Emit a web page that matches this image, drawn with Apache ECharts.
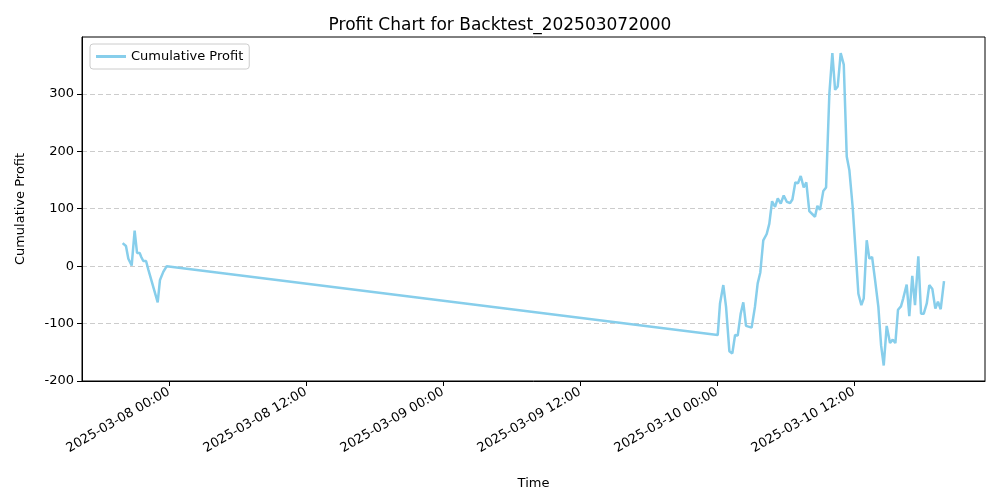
<!DOCTYPE html>
<html lang="en">
<head>
  <meta charset="UTF-8">
  <title>Profit Chart</title>
  <script src="https://cdn.jsdelivr.net/npm/echarts@6/dist/echarts.min.js"></script>
</head>
<body style="margin:0">
  <div id="main" style="width:1000px;height:500px;"></div>
  <script>
  // hours since 2025-03-08 00:00
  var hours = [-4.06, -3.77, -3.56, -3.27, -3.01, -2.80, -2.57, -2.43, -2.25, -2.01, -1.81, -0.99, -0.79, -0.50, -0.20,
    48.06, 48.26, 48.55, 48.79, 49.08, 49.34, 49.58, 49.81, 50.07, 50.30, 50.54, 51.03, 51.32, 51.56, 51.79,
    52.05, 52.35, 52.58, 52.82, 53.08, 53.32, 53.58, 53.84, 54.11, 54.40, 54.60, 54.86, 55.09, 55.33, 55.59,
    55.82, 56.08, 56.58, 56.79, 57.02, 57.31, 57.55, 57.84, 58.10, 58.34, 58.57, 58.83, 59.10, 59.36, 59.59,
    59.88, 60.17, 60.38, 60.64, 60.85, 61.11, 61.34, 61.58, 61.84, 62.13, 62.37, 62.60, 62.86, 63.15, 63.39,
    63.62, 63.85, 64.11, 64.31, 64.61, 64.84, 65.10, 65.34, 65.63, 65.87, 66.10, 66.37, 66.59, 66.86, 67.12,
    67.35, 67.59, 67.88]
  var profit = [40, 35, 13, 1, 62, 23, 23, 16, 9, 9, -6, -63, -24, -10, 0,
    -120, -65, -33, -71, -148, -152, -120, -121, -83, -63, -104, -107, -71, -30, -11,
    45, 56, 74, 113, 103, 118, 109, 123, 112, 110, 116, 146, 144, 157, 137,
    146, 96, 86, 105, 98, 131, 137, 301, 371, 307, 313, 371, 351, 191, 167,
    103, 16, -48, -68, -56, 45, 13, 16, -24, -71, -138, -173, -104, -134, -128,
    -134, -76, -70, -56, -32, -87, -17, -68, 17, -83, -83, -65, -33, -40, -74,
    -62, -75, -26]
  var tickHours = [0, 12, 24, 36, 48, 60]
  var tickLabels = ['2025-03-08 00:00', '2025-03-08 12:00', '2025-03-09 00:00', '2025-03-09 12:00', '2025-03-10 00:00', '2025-03-10 12:00']

  var font = 'DejaVu Sans'
  var myChart = echarts.init(document.getElementById('main'))
  var option = {
    animation: false,
    textStyle: { fontFamily: font },
    title: {
      text: 'Profit Chart for Backtest_202503072000',
      left: 'center', top: 12,
      textStyle: { fontFamily: font, fontSize: 17, fontWeight: 'normal', color: '#000' }
    },
    legend: {
      left: 90, top: 44,
      padding: [6, 6],
      borderColor: '#ccc', borderWidth: 1, borderRadius: 3,
      itemWidth: 30, itemHeight: 3, icon: 'rect',
      textStyle: { fontFamily: font, fontSize: 13, color: '#000' },
      data: ['Cumulative Profit']
    },
    grid: {
      left: 82, right: 15, top: 37, bottom: 119,
      show: true, borderColor: '#000', borderWidth: 1
    },
    xAxis: {
      type: 'value',
      min: -7.62, max: 71.47,
      name: 'Time', nameLocation: 'middle', nameGap: 96,
      nameTextStyle: { fontFamily: font, fontSize: 13, color: '#000' },
      axisLine: { show: true, onZero: false, lineStyle: { color: '#000' } },
      axisTick: { show: true, customValues: tickHours, lineStyle: { color: '#000' } },
      axisLabel: {
        customValues: tickHours, rotate: 30, margin: 10, color: '#000', fontSize: 13, fontFamily: font,
        formatter: function (v) { return tickLabels[tickHours.indexOf(v)] || '' }
      },
      splitLine: { show: false }
    },
    yAxis: {
      type: 'value',
      min: -200, max: 399, interval: 100,
      name: 'Cumulative Profit', nameLocation: 'middle', nameGap: 55,
      nameTextStyle: { fontFamily: font, fontSize: 13, color: '#000' },
      axisLine: { show: true, onZero: false, lineStyle: { color: '#000' } },
      axisTick: { show: true, lineStyle: { color: '#000' } },
      axisLabel: { color: '#000', fontSize: 13, fontFamily: font, showMaxLabel: false },
      splitLine: { show: true, showMinLine: false, showMaxLine: false, lineStyle: { type: [5, 3], color: '#ccc' } }
    },
    series: [{
      name: 'Cumulative Profit',
      type: 'line',
      showSymbol: false,
      color: '#87ceeb',
      lineStyle: { width: 2.5, color: '#87ceeb' },
      data: hours.map(function (h, i) { return [h, profit[i]] })
    }]
  }
  myChart.setOption(option)
  </script>
</body>
</html>
